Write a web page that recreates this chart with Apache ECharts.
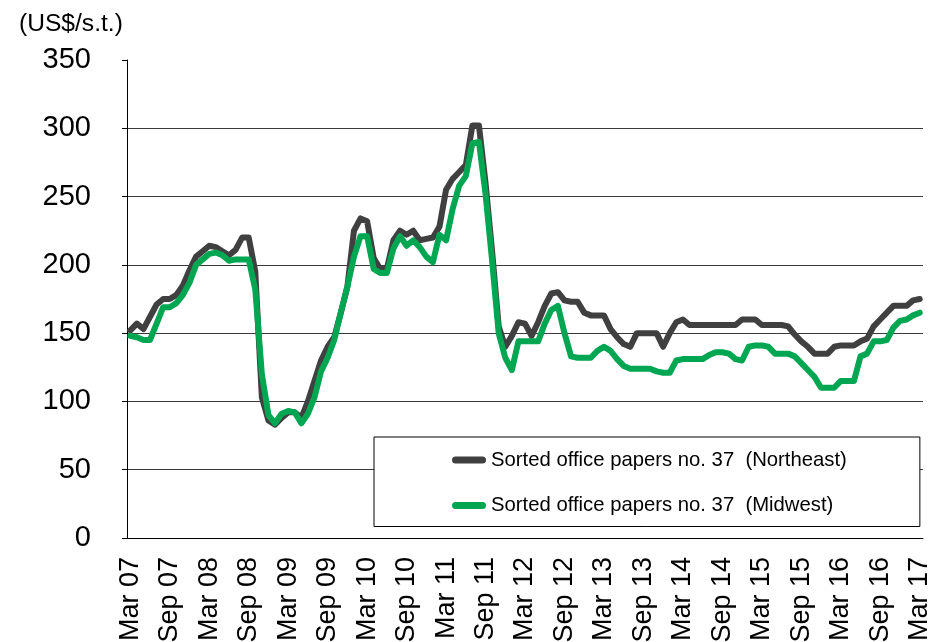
<!DOCTYPE html>
<html>
<head>
<meta charset="utf-8">
<script src="https://cdn.jsdelivr.net/npm/echarts@6/dist/echarts.min.js"></script>
<style>
  html, body { margin: 0; padding: 0; background: #fff; }
  #chart { width: 943px; height: 642px; }
</style>
</head>
<body>
<div id="chart"></div>
<script>
// Monthly prices, US$ per short ton, March 2007 through March 2017
const northeast = [
  152, 157, 153, 162, 171, 175, 175, 178, 185, 196, 206, 210,
  214, 213, 210, 207, 211, 220, 220, 195, 103, 86, 83, 88,
  92, 92, 88, 100, 115, 130, 140, 147, 165, 184, 225, 234,
  232, 205, 197, 197, 218, 225, 222, 225, 218, 219, 220, 228,
  255, 263, 268, 273, 302, 302, 260, 210, 155, 140, 148, 158,
  157, 148, 158, 170, 179, 180, 174, 173, 173, 165, 163, 163,
  163, 153, 147, 142, 140, 150, 150, 150, 150, 140, 150, 158,
  160, 156, 156, 156, 156, 156, 156, 156, 156, 160, 160, 160,
  156, 156, 156, 156, 155, 149, 144, 140, 135, 135, 135, 140,
  141, 141, 141, 144, 146, 155, 160, 165, 170, 170, 170, 174,
  175
];
const midwest = [
  148, 147, 145, 145, 157, 169, 169, 172, 178, 187, 200, 204,
  208, 209, 207, 203, 204, 204, 204, 182, 120, 90, 84, 91,
  93, 92, 84, 91, 103, 122, 132, 145, 165, 184, 206, 221,
  221, 197, 194, 194, 212, 221, 214, 218, 213, 206, 202, 222,
  218, 241, 258, 265, 289, 290, 252, 203, 150, 132, 123, 144,
  144, 144, 144, 157, 167, 170, 150, 133, 132, 132, 132, 137,
  140, 137, 131, 126, 124, 124, 124, 124, 122, 121, 121, 130,
  131, 131, 131, 131, 134, 136, 136, 135, 131, 130, 140, 141,
  141, 140, 135, 135, 135, 133, 128, 123, 118, 110, 110, 110,
  115, 115, 115, 133, 135, 144, 144, 145, 154, 159, 160, 163,
  165
];
const seriesNames = [
  'Sorted office papers no. 37  (Northeast)',
  'Sorted office papers no. 37  (Midwest)'
];
const yTicks = [0, 50, 100, 150, 200, 250, 300, 350];
const unitLabel = '(US$/s.t.)';

// Month labels like "Mar 07", one per data point
const monthNames = ['Jan', 'Feb', 'Mar', 'Apr', 'May', 'Jun', 'Jul', 'Aug', 'Sep', 'Oct', 'Nov', 'Dec'];
const firstMonth = 2, firstYear = 7;
const categories = northeast.map(function (_, k) {
  const m = firstMonth + k;
  const yy = firstYear + Math.floor(m / 12);
  return monthNames[m % 12] + ' ' + String(yy).padStart(2, '0');
});

const FONT = '"Liberation Sans", Arial, sans-serif';
const GREY = '#404040';
const GREEN = '#00a651';

const chart = echarts.init(document.getElementById('chart'), null, { renderer: 'canvas' });
chart.setOption({
  backgroundColor: '#ffffff',
  animation: false,
  title: {
    text: unitLabel,
    left: 19,
    top: 12,
    padding: 0,
    textStyle: { fontFamily: FONT, fontSize: 24.6, fontWeight: 'normal', color: '#000' }
  },
  grid: {
    left: 127, right: 20, top: 60, bottom: 104,
    containLabel: false,
    outerBoundsMode: 'none'
  },
  xAxis: {
    type: 'category',
    data: categories,
    boundaryGap: true,
    axisLine: { lineStyle: { color: '#000', width: 1 } },
    axisTick: { interval: 5, length: 6, lineStyle: { color: '#000' } },
    axisLabel: {
      interval: 5,
      rotate: 90,
      margin: 19,
      color: '#000',
      fontFamily: FONT,
      fontSize: 27
    },
    splitLine: { show: false }
  },
  yAxis: {
    type: 'value',
    min: yTicks[0],
    max: yTicks[yTicks.length - 1],
    interval: yTicks[1] - yTicks[0],
    axisLine: { show: true, lineStyle: { color: '#000', width: 1 } },
    axisTick: { show: true, length: 5, lineStyle: { color: '#000' } },
    axisLabel: { margin: 36, color: '#000', fontFamily: FONT, fontSize: 29 },
    splitLine: { show: true, showMaxLine: false, lineStyle: { color: '#3a3a3a', width: 1 } }
  },
  legend: {
    orient: 'vertical',
    left: 374,
    top: 437,
    padding: [13, 73, 11, 78],
    itemGap: 25.5,
    itemWidth: 34,
    itemHeight: 7,
    icon: 'path://M3.5,0 H30.5 A3.5,3.5 0 0 1 30.5,7 H3.5 A3.5,3.5 0 0 1 3.5,0 Z',
    backgroundColor: '#fff',
    borderColor: '#000',
    borderWidth: 1,
    borderRadius: 0,
    textStyle: { fontFamily: FONT, fontSize: 20.3, color: '#000' },
    data: seriesNames
  },
  series: [
    {
      name: seriesNames[0],
      type: 'line',
      data: northeast,
      symbol: 'none',
      color: GREY,
      lineStyle: { color: GREY, width: 6, join: 'round', cap: 'round' },
      z: 3
    },
    {
      name: seriesNames[1],
      type: 'line',
      data: midwest,
      symbol: 'none',
      color: GREEN,
      lineStyle: { color: GREEN, width: 6, join: 'round', cap: 'round' },
      z: 4
    }
  ]
});
</script>
</body>
</html>
